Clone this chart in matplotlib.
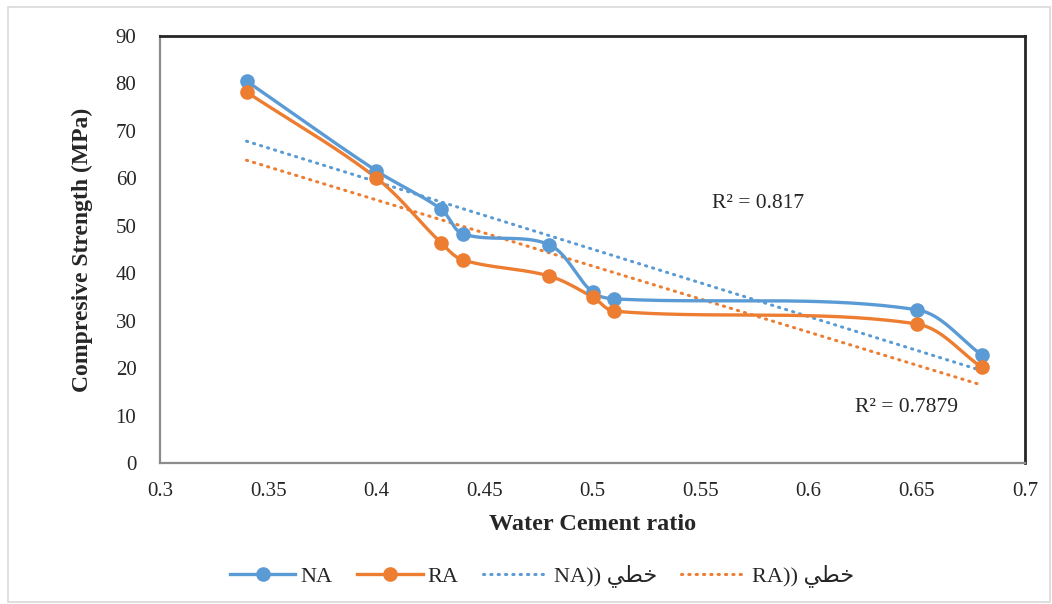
import numpy as np
import matplotlib
matplotlib.use("Agg")
import matplotlib.pyplot as plt
from matplotlib.lines import Line2D
from matplotlib.patches import Rectangle

# ---- data ----
wc_ratio = [0.34, 0.40, 0.43, 0.44, 0.48, 0.50, 0.51, 0.65, 0.68]
na_strength = [80.5, 61.6, 53.5, 48.3, 46.0, 36.0, 34.6, 32.3, 22.8]
ra_strength = [78.2, 60.1, 46.4, 42.8, 39.4, 35.0, 32.0, 29.3, 20.2]
series_names = ["NA", "RA"]
r2_labels = ["R² = 0.817", "R² = 0.7879"]
x_ticks = [0.3, 0.35, 0.4, 0.45, 0.5, 0.55, 0.6, 0.65, 0.7]
x_tick_labels = ["0.3", "0.35", "0.4", "0.45", "0.5", "0.55", "0.6", "0.65", "0.7"]
y_ticks = [0, 10, 20, 30, 40, 50, 60, 70, 80, 90]

BLUE = "#5B9BD5"
ORANGE = "#ED7D31"
TXT = "#262626"
SERIF = ["Liberation Serif", "DejaVu Serif"]
ARABIC_WORD = "\uFEF2\uFEC4\uFEA7"  # خطي in visual (shaped) order
DOT = (0, (0.4, 2.0))


def smooth_curve(ax, xs, ys, n=60):
    """Excel-like smoothed line: cubic Bezier segments, tangents from neighbours,
    control distances scaled by chord length (computed in display space)."""
    P = ax.transData.transform(np.column_stack([xs, ys]).astype(float))
    m = len(P)
    d = np.linalg.norm(np.diff(P, axis=0), axis=1)
    tang = []
    for i in range(m):
        if i == 0:
            tang.append((P[1] - P[0]) / d[0])
        elif i == m - 1:
            tang.append((P[-1] - P[-2]) / d[-1])
        else:
            tang.append((P[i + 1] - P[i - 1]) / (d[i - 1] + d[i]))
    pts = []
    for i in range(m - 1):
        p1, p2 = P[i], P[i + 1]
        c1 = p1 + tang[i] * d[i] / 3.0
        c2 = p2 - tang[i + 1] * d[i] / 3.0
        t = np.linspace(0, 1, n)[:, None]
        seg = ((1 - t) ** 3) * p1 + 3 * ((1 - t) ** 2) * t * c1 + 3 * (1 - t) * t ** 2 * c2 + t ** 3 * p2
        pts.append(seg if i == 0 else seg[1:])
    pts = ax.transData.inverted().transform(np.vstack(pts))
    return pts[:, 0], pts[:, 1]


plt.rcParams["font.family"] = SERIF

fig = plt.figure(figsize=(10.52, 6.04), dpi=100)
fig.patches.append(Rectangle((8 / 1052, 2 / 604), 1042 / 1052, 595 / 604,
                             transform=fig.transFigure, fill=False,
                             edgecolor="#D9D9D9", linewidth=1.2))
ax = fig.add_axes([160 / 1052, 141 / 604, 865 / 1052, 427 / 604])
ax.set_xlim(0.3, 0.7)
ax.set_ylim(0, 90)

x = np.array(wc_ratio)
for ys, col in [(na_strength, BLUE), (ra_strength, ORANGE)]:
    cx, cy = smooth_curve(ax, x, ys)
    ax.plot(cx, cy, color=col, lw=2.4, solid_capstyle="round", zorder=3)
    ax.plot(x, ys, "o", color=col, ms=9.5, zorder=4)
    # linear trendline
    k, b = np.polyfit(x, ys, 1)
    tx = np.array([x.min(), x.max()])
    ax.plot(tx, k * tx + b, color=col, lw=2.2, linestyle=DOT,
            dash_capstyle="round", zorder=2)

ax.text(0.5553, 54.8, r2_labels[0], fontsize=15.5, va="center", ha="left", color=TXT)
ax.text(0.6215, 11.8, r2_labels[1], fontsize=15.5, va="center", ha="left", color=TXT)

ax.set_xticks(x_ticks)
ax.set_xticklabels(x_tick_labels)
ax.set_yticks(y_ticks)
ax.tick_params(length=0, labelsize=15, colors=TXT)
ax.tick_params(axis="x", pad=14)
ax.tick_params(axis="y", pad=17)

for s in ["left", "bottom"]:
    ax.spines[s].set_color("#8C8C8C")
    ax.spines[s].set_linewidth(1.6)
for s in ["top", "right"]:
    ax.spines[s].set_color(TXT)
    ax.spines[s].set_linewidth(2.0)

ax.set_xlabel("Water Cement ratio", fontsize=17.5, fontweight="bold", labelpad=9, color=TXT)
ax.set_ylabel("Compresive Strength (MPa)", fontsize=17, fontweight="bold", labelpad=16, color=TXT)

handles = [
    Line2D([], [], color=BLUE, lw=2.4, marker="o", ms=9.5),
    Line2D([], [], color=ORANGE, lw=2.4, marker="o", ms=9.5),
    Line2D([], [], color=BLUE, lw=2.2, linestyle=DOT, dash_capstyle="round"),
    Line2D([], [], color=ORANGE, lw=2.2, linestyle=DOT, dash_capstyle="round"),
]
labels = [series_names[0], series_names[1],
          series_names[0] + ")) " + ARABIC_WORD,
          series_names[1] + ")) " + ARABIC_WORD]
leg = fig.legend(handles, labels, loc="center", bbox_to_anchor=(542 / 1052, 1 - 576 / 604),
                 ncol=4, frameon=False, handlelength=2.95, handletextpad=0.23,
                 columnspacing=1.1, borderpad=0.2,
                 prop={"family": ["Liberation Serif", "DejaVu Sans"], "size": 16})
for t in leg.get_texts():
    t.set_color(TXT)

fig.savefig("out.png", dpi=100, facecolor="white")
